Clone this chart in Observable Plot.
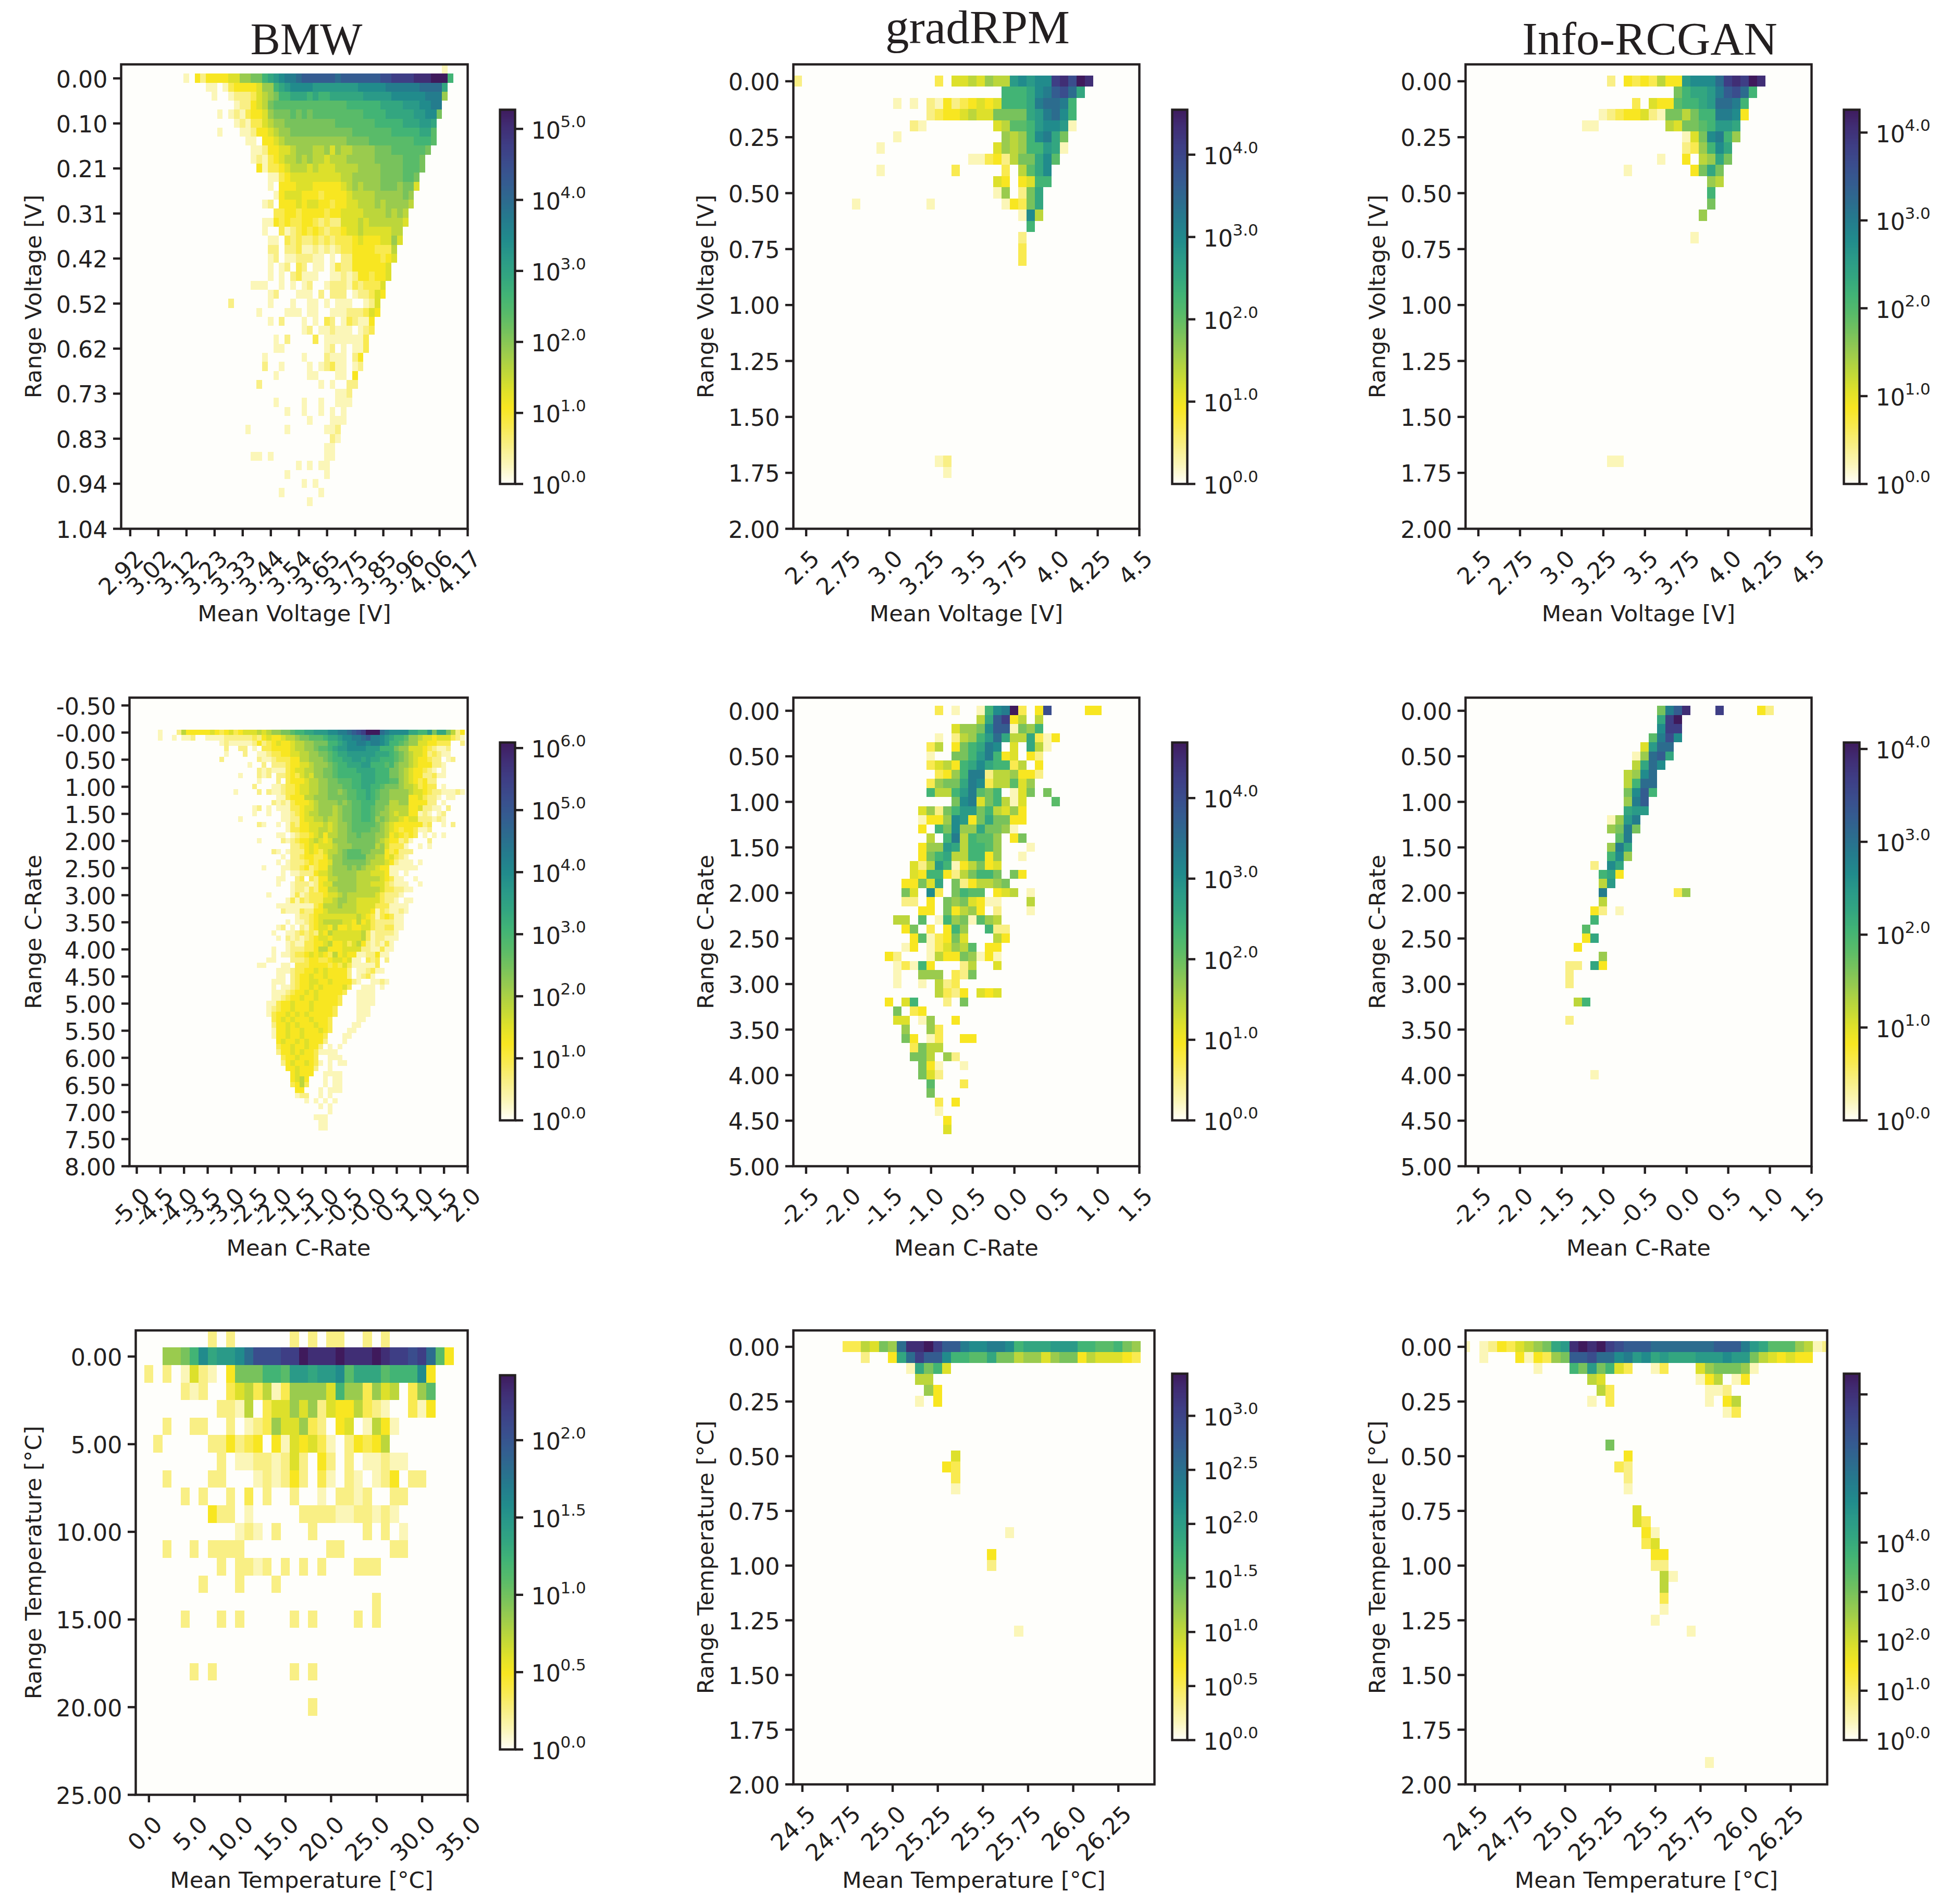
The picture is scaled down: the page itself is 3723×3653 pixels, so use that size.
<!DOCTYPE html>
<html>
<head>
<meta charset="utf-8">
<style>
html,body{margin:0;padding:0;background:#fff}
#page{position:relative;width:3723px;height:3653px;overflow:hidden;background:#fff}
#page svg{position:absolute}
.title{position:absolute;font-family:"Liberation Serif",serif;line-height:90px;color:#231f20;white-space:nowrap;transform:translateX(-50%)}
</style>
<script src="https://cdn.jsdelivr.net/npm/d3@7"></script>
<script src="https://cdn.jsdelivr.net/npm/@observablehq/plot@0.6"></script>
</head>
<body>
<div id="page"></div>
<script>
// Each cell list: [row, first column, levels]. One character per column; "." is empty.
// A level 0..k is a position on the logarithmic colour bar of that panel, in 1/20 steps.
const bmwVoltCells = [
[-1,56,"1"],
[0,10,"1.424444557788abcdeefggggggfggggggghhiiiijjjkkka"],
[1,14,"11.134444577abcddddccccccccdddddeeeeeeffffb"],
[2,15,"1..122235678aabbbabaabbbbbbcccccddddddeee7"],
[3,19,"12245689999999999999aaaaaabbbbcccddee"],
[4,16,"1.121344578889898999999999aaaabbbbbccdd8"],
[5,19,"1213356778888888889999999aaaaabbbccb"],
[6,16,"1"],[6,20,"112445677888888888889999999aaaaabb9"],
[7,21,"11.445677777777777888899999999aaa9"],
[8,22,"11244556777667576677778889999998"],
[9,22,"1213456676766566677777888889998"],
[10,23,"413345666565556666777788889998"],
[11,25,"113455555555566777778888998"],
[12,25,"1.4445554444456767778887885"],
[13,26,"1455544434444566667777787"],
[14,24,"12.444545544344556667677776"],
[15,26,"334434444344555566667676"],
[16,24,"11434334432322555656666665"],
[17,24,"1..3123434323345565555566"],
[18,25,"11.323223232333454445575"],
[19,25,"22.22311212123344443336"],
[20,25,"12.1122211.1.2244444345"],
[21,25,"1.12.32.11.13224444445"],
[22,25,"1.1.23111..11212443445"],
[23,22,"111..1.1.12..12221323335"],
[24,25,"12...111.2.222.122354"],
[25,18,"2"],[25,25,"1...1..11.1.111..125"],
[26,23,"1"],[26,28,"111.11..111222354"],
[27,25,"1.2...1.1.32.132114"],
[28,31,"12.112111.123"],
[29,26,"1.2....3.11111113"],
[30,26,"11"],[30,35,"12.1.113"],
[31,24,"1"],[31,31,"1...2111.24"],
[32,24,"2..1....1.12311.12"],
[33,26,"1.....11...11.4"],
[34,23,"2..........1.1..22"],
[35,37,"112"],
[36,26,"1....1..1..111"],
[37,28,"1..1..1.1.1"],
[38,32,"1...111"],
[39,21,"1......1......112"],
[40,36,"21"],
[41,35,"11"],
[42,22,"11.1.........11"],
[43,30,"1.1.11"],
[44,28,"1......1"],
[45,31,"1.1"],
[46,27,"1......1"],
[47,32,"1"]
];
const gradVoltCells = [
[0,0,"2................3.5565766cdcddijhkj"],
[1,25,"aaabdeghfb"],
[2,12,"1.1.214234545aaabeffea"],
[3,16,"234456558888bcefda"],
[4,14,"21........5699acddc1"],
[5,12,"1"],[5,25,"767adeb8"],
[6,10,"1"],[6,24,"5767aacb1"],
[7,21,"11342688bd9"],
[8,10,"1"],[8,19,"3"],[8,25,"3.69bd"],
[9,24,"54.45aa"],
[10,24,"17.28b"],
[11,7,"1"],[11,16,"1"],[11,25,"1438b"],
[12,27,"1d6"],
[13,28,"a"],
[14,27,"2"],[15,27,"3"],[16,27,"3"],
[34,17,"12"],[35,18,"1"]
];
const infoVoltCells = [
[0,17,"2.4343644cdddfijikj"],
[1,25,"8abbceghfa"],
[2,20,"3.5449aabcffea"],
[3,16,"123445218868aaeed4"],
[4,14,"11........65889accb"],
[5,26,"158dea7"],
[6,26,"237adb"],
[7,23,"1"],[7,26,"4.67b8"],
[8,19,"1"],[8,27,"48b8"],
[9,29,"76"],[10,29,"a"],[11,29,"8"],[12,28,"7"],[14,27,"1"],
[34,17,"11"]
];
const bmwCrateCells = [
[0,5,"1...2644444544"],
[0,18,"3453455565677889aabbcccddeefghikkkfeddddbbaac8bb8624"],
[1,5,"1..1.112"],[1,15,"111"],
[1,18,"1222222324544566788999abbcddeefgeedcbaa9776554555321"],
[2,18,"12111112423454456677888aabcddeedeedcaa98775544333..2"],
[3,18,".2..22.1.33444456677899abccddddcccaaa877555432112"],
[4,18,".1...2..1123344556677889abbccccccbbba987655423211"],
[5,18,"2.......2112333446677789aabbccbcbbaaa9876544322.12"],
[6,18,"......1..2.22234455677789aabbbccaaa9a87765444221"],
[7,18,"........21211134556677889aaaabbbbaaa8876544321.1"],
[8,18,"....1...212.2234356577889aaaaabbbaaa887654422311"],
[9,18,"........1...2.34445667788999aabbbaaa9976543422"],
[10,18,".......2...11233455667788899aabbaa988876653433.1"],
[11,18,"...1....2.2112334556677887899aaba9887777655432211121"],
[12,18,"............11344466777888899aaba98877774453221.11"],
[13,18,"...........2121344456777787899aaa8886677444422.1"],
[14,18,".......12.1.111334556777678899aa988766664452211.2"],
[15,18,".......1..1..11234566777678899aa9877656644121.12"],
[16,18,"....1........11224556676678899aa9787665455222121"],
[17,18,"........21..1.1324455565677899999876544444423..1.2"],
[18,18,"..............1334455665677899998876543443112"],
[19,18,"............11.123345646677889888776454343.1.1.1"],
[20,18,"........1....2123445654577788888876544231...2"],
[21,18,"...............2234545556777888886753331..1.1"],
[22,18,"...........21.122245435667899988777434222"],
[23,18,".............1.2234433467789999776645321"],
[24,18,"............1.122234344577888887666542111.1"],
[25,18,".........1...11223423446777878766544111111"],
[26,18,".............1.11222455677777666555411.1"],
[27,18,"............11..23.32446677776666654311..1"],
[28,18,"............1..1222124557777766655532111..1"],
[29,18,"...............12213244667777666665332211"],
[30,18,"..........1....131233345567666666532221"],
[31,18,"..............131323335567766555553221.11"],
[32,18,"............1111111134666766655553331111"],
[33,18,".............211132244566666655541321121"],
[34,18,"................12234555555556543134311"],
[35,18,"..............1.11234566665546453222211"],
[36,18,"............12.1.2134554644544553223311"],
[37,18,"...........1..112323254655555563122221"],
[38,18,"............1.212123455455555563122111"],
[39,18,"..............12113344564453564212131"],
[40,18,"...........1..12223346644455552211311"],
[41,18,"...........1.11233454543645441122411"],
[42,18,"..........11...222344334554511.323.2"],
[43,18,"........11...11.333444434353111113"],
[44,30,"1112334454544442.112311"],
[45,30,"11.2344544544442.1231"],
[46,29,"111.234455445444421..1121"],
[47,29,"1.112344545444453..111.1"],
[48,29,"1112344545444443..1111"],
[49,29,"112344544544443...1111"],
[50,28,"1134454445444443...1111"],
[51,28,"123445444544443....111"],
[52,28,"134454545444443....111"],
[53,29,"3454544454443.....11"],
[54,29,"2445454445443....11"],
[55,29,"1445445444543...11"],
[56,29,"144544544443...11"],
[57,30,"45445454442...1"],
[58,30,"3445445442.1.1"],
[59,30,"2445454431111"],
[60,31,"34454443..111"],
[61,31,"245445431.1.11"],
[62,32,"4454442..1"],
[63,33,"45444..1111"],
[64,33,"4564...1.11"],
[65,33,"3463...1.11"],
[66,34,"44...1.111"],
[67,34,"122..1.1"],
[68,36,"1.1.1.1"],
[69,39,"1.1"],
[70,41,"1"],
[71,38,"111"],
[72,39,"11"],
[73,39,"11"]
];
const gradCrateCells = [
[0,6,"3.1..1adek3.4h....44"],
[1,11,"6bgi46.6"],
[2,8,"5778dgg187a"],
[3,6,"1.267acfb66b314"],
[4,5,"36.48abed.5.b61"],
[5,5,"1..88acea45.42"],
[6,5,"3564abdbaa36.4"],
[7,6,"347aee2667442"],
[8,5,"3788bed366957"],
[9,5,"a66ace98a.158.8"],
[10,8,"8de58a615...9"],
[11,4,"5728acc8a6574"],
[12,4,"1447dc48b8844"],
[13,4,"4.a8d77b8871"],
[14,5,"6.ae6a997.48"],
[15,4,"477cb6aa97...1"],
[16,4,"48ab66aa47..1"],
[17,3,"526ca146845"],
[18,3,"54aa4268aa8.84"],
[19,2,"4485b.8246678"],
[20,2,"85.d3.8a99.456.1"],
[21,2,"22.4.8785411...6"],
[22,4,"44.84674.2...1"],
[23,1,"66.9.1a781976"],
[24,2,"48.3.4a7..a22"],
[25,3,"4913485...64"],
[26,2,"14.135769.44"],
[27,0,"42...164487141"],
[28,1,"131a4...26..5"],
[29,1,"1..777.328"],
[30,1,"1..1.623"],
[31,6,"6324.545"],
[32,0,"4.5a...2.8"],
[33,1,"8.34"],
[34,1,"55.17..4"],
[35,2,"7..73"],
[36,2,"84.13..44"],
[37,3,"3866"],
[38,3,"886.72"],
[39,4,"841..1"],
[40,4,"852"],
[41,5,"9...3"],
[42,5,"8"],
[43,6,"3.4"],
[44,6,"1"],
[45,7,"4"],
[46,7,"5"]
];
const infoCrateCells = [
[0,12,"8egj...i....42"],
[1,12,"bik"],[2,12,"dii"],
[3,11,"9ehd"],[4,10,"5cff"],[5,9,"17fgb"],[6,9,"6bfd"],
[7,8,"67df"],[8,8,"6aff"],[9,8,"8dga"],[10,8,"7eg"],[11,8,"bcc"],
[12,6,"17ce"],[13,6,"78e8"],[14,7,"9e"],[15,6,"7eb"],[16,6,"ad7"],
[17,4,"2.db"],[18,5,"ab4"],[19,5,"6c"],
[20,5,"e........37"],[21,5,"6"],[22,4,"42.1"],[23,4,"a"],[24,3,"9"],
[25,3,"4b"],[26,2,"4"],[27,5,"7"],[28,1,"22.b4"],[29,1,"2"],[30,1,"2"],
[32,2,"6a"],[34,1,"2"],[40,4,"1"]
];
const bmwTempCells = [
[-1,7,"2.2......2.2.22..2.2"],
[0,2,"778adbccdfhhhiikjjjkjjjkjiihif94"],
[1,0,"2.2.1521.4888aa9ccbccd9bbb9aaad4"],
[2,4,"212..356361377775a773756.379"],
[3,8,"2216.35575725446321..314"],
[4,2,"2..22..2.123755732.45.1641"],
[5,1,"2.....224234.4154531.24346"],
[6,8,"2.11221252.42.2.11211"],
[7,2,"2....22...121242.31.21.124.22"],
[8,4,"2.2..2.3.2..2..1.2212..22"],
[9,7,"422.1.....22221122121"],
[10,10,"121.2...2.....2.2.1"],
[11,2,"2..2.2222.........22.....22"],
[12,8,"2.2212.2.2.2...222"],
[13,6,"2...2...2"],
[14,25,"2"],
[15,4,"2...2.2.....2.2....2.2"],
[18,5,"2.2........2.2"],
[20,18,"2"]
];
const gradTempCells = [
[0,0,"336587fjjkiggeddeedabbbcccaa99a87"],
[1,2,"2..4bfiggdaa99b8867757884655543"],
[2,7,"1b8a5"],
[3,8,"66"],
[4,9,"74"],
[5,8,"1.4"],
[10,12,"5"],
[11,11,"43"],
[12,12,"3"],
[13,12,"1"],
[17,18,"1"],
[19,16,"4"],
[20,16,"2"],
[26,19,"1"]
];
const infoTempCells = [
[0,0,"1.12435678bcjkjkihgggfffffffgggecb9997612"],
[1,2,"1...414378gghffdecdbcbbbcccdcc8654544"],
[2,8,"1...a8c8a53..13...5788871"],
[3,14,"65..........146.14"],
[4,15,"63..........112"],
[5,14,"1.3..........1.46"],
[6,29,"13"],
[9,16,"8"],
[10,18,"4"],
[11,17,"32"],
[12,18,"2"],
[13,18,"1"],
[15,19,"5"],
[16,19,"53"],
[17,20,"41"],
[18,20,"35"],
[19,21,"44"],
[20,21,"22"],
[21,22,"61"],
[22,22,"6"],
[23,22,"3"],
[24,22,"1"],
[25,21,"1"],
[26,25,"1"],
[38,27,"1"]
];

// Tick values and their printed labels
const bmwVoltX = [2.91667,3.02083,3.125,3.22917,3.33333,3.4375,3.54167,3.64583,3.75,3.85417,3.95833,4.0625,4.16667];
const bmwVoltXLabels = ["2.92","3.02","3.12","3.23","3.33","3.44","3.54","3.65","3.75","3.85","3.96","4.06","4.17"];
const bmwVoltY = [0,0.104167,0.208333,0.3125,0.416667,0.520833,0.625,0.729167,0.833333,0.9375,1.041667];
const bmwVoltYLabels = ["0.00","0.10","0.21","0.31","0.42","0.52","0.62","0.73","0.83","0.94","1.04"];
const genVoltX = [2.5,2.75,3,3.25,3.5,3.75,4,4.25,4.5];
const genVoltXLabels = ["2.5","2.75","3.0","3.25","3.5","3.75","4.0","4.25","4.5"];
const genRangeY = [0,0.25,0.5,0.75,1,1.25,1.5,1.75,2];
const genRangeYLabels = ["0.00","0.25","0.50","0.75","1.00","1.25","1.50","1.75","2.00"];
const bmwCrateX = [-5,-4.5,-4,-3.5,-3,-2.5,-2,-1.5,-1,-0.5,0,0.5,1,1.5,2];
const bmwCrateXLabels = ["-5.0","-4.5","-4.0","-3.5","-3.0","-2.5","-2.0","-1.5","-1.0","-0.5","-0.0","0.5","1.0","1.5","2.0"];
const bmwCrateY = [-0.5,0,0.5,1,1.5,2,2.5,3,3.5,4,4.5,5,5.5,6,6.5,7,7.5,8];
const bmwCrateYLabels = ["-0.50","-0.00","0.50","1.00","1.50","2.00","2.50","3.00","3.50","4.00","4.50","5.00","5.50","6.00","6.50","7.00","7.50","8.00"];
const genCrateX = [-2.5,-2,-1.5,-1,-0.5,0,0.5,1,1.5];
const genCrateXLabels = ["-2.5","-2.0","-1.5","-1.0","-0.5","0.0","0.5","1.0","1.5"];
const genCrateY = [0,0.5,1,1.5,2,2.5,3,3.5,4,4.5,5];
const genCrateYLabels = ["0.00","0.50","1.00","1.50","2.00","2.50","3.00","3.50","4.00","4.50","5.00"];
const bmwTempX = [0,5,10,15,20,25,30,35];
const bmwTempXLabels = ["0.0","5.0","10.0","15.0","20.0","25.0","30.0","35.0"];
const bmwTempY = [0,5,10,15,20,25];
const bmwTempYLabels = ["0.00","5.00","10.00","15.00","20.00","25.00"];
const genTempX = [24.5,24.75,25,25.25,25.5,25.75,26,26.25];
const genTempXLabels = ["24.5","24.75","25.0","25.25","25.5","25.75","26.0","26.25"];

const colTitles = ["BMW","gradRPM","Info-RCGAN"];
const cbIntegerTicks = [0,1,2,3,4,5,6];
const cbHalfTicks = [0,0.5,1,1.5,2,2.5,3];

const INK = "#231f20";
const LEVELS = "0123456789abcdefghijk";
const RAMP = ["#fffef6","#fbf6b8","#f9ef85","#f9ea50","#f8e621","#dde02b","#bcd63b","#9acb4e","#78c25c","#59bb69","#42b475",
              "#33a680","#2a9a88","#218b8c","#247c8d","#2c6c8e","#345c90","#3a4d8d","#3e3e85","#402e75","#3f1a5c"];
const ramp = d3.scaleLinear().domain(RAMP.map((_, i) => i / 20)).range(RAMP).clamp(true);
const interpolate = t => ramp(t);

const FS = 44.4, LABEL_FS = 43.3, SW = 4.4, TICK = 15;
const page = document.getElementById("page");

function panel(o) {
  const mL = 240, mR = 6, mT = 6, mB = 230;
  const W = o.right - o.left, H = o.bottom - o.top;
  const cells = [];
  for (const [r, c0, s] of o.cells) {
    [...s].forEach((ch, i) => {
      if (ch === ".") return;
      const c = c0 + i, t = LEVELS.indexOf(ch) / 20;
      const x = o.x0 + c * o.dx, y = o.y0 + r * o.dy;
      cells.push({x1: x - o.dx / 2, x2: x + o.dx / 2, y1: y - o.dy / 2, y2: y + o.dy / 2, v: 10 ** (t * o.E)});
    });
  }
  const xl = new Map(o.xt.map((d, i) => [d, o.xtl[i]]));
  const yl = new Map(o.yt.map((d, i) => [d, o.ytl[i]]));
  const svg = Plot.plot({
    width: W + mL + mR, height: H + mT + mB,
    marginLeft: mL, marginRight: mR, marginTop: mT, marginBottom: mB,
    style: {fontFamily: "DejaVu Sans", fontSize: FS + "px", color: INK, background: "transparent", overflow: "visible"},
    x: {domain: o.xd, axis: null},
    y: {domain: o.yd, axis: null},
    color: {type: "log", domain: [1, 10 ** o.E], interpolate},
    marks: [
      Plot.frame({fill: "#fefefb", stroke: null}),
      Plot.rect(cells, {x1: "x1", x2: "x2", y1: "y1", y2: "y2", fill: "v", clip: true, shapeRendering: "crispEdges"}),
      Plot.axisX(o.xt, {anchor: "bottom", tickSize: TICK, fill: "none", strokeWidth: SW, label: null}),
      Plot.axisX(o.xt, {anchor: "bottom", tickSize: 0, tickPadding: 50, tickRotate: -45, textAnchor: "end", lineAnchor: "middle",
        dx: 18, tickFormat: d => xl.get(d), label: null}),
      Plot.axisY(o.yt, {anchor: "left", tickSize: TICK, fill: "none", strokeWidth: SW, label: null}),
      Plot.axisY(o.yt, {anchor: "left", tickSize: 0, tickPadding: 26, dy: 3, tickFormat: d => yl.get(d), label: null}),
      Plot.text([o.xlabel], {frameAnchor: "bottom", dy: o.xlabelDy, textAnchor: "middle", lineAnchor: "middle", fontSize: LABEL_FS}),
      Plot.text([o.ylabel], {frameAnchor: "left", dx: o.labelX - o.left, rotate: -90, textAnchor: "middle", lineAnchor: "middle", fontSize: LABEL_FS}),
      Plot.frame({stroke: INK, strokeWidth: SW})
    ]
  });
  svg.style.left = (o.left - mL) + "px";
  svg.style.top = (o.top - mT) + "px";
  page.appendChild(svg);
}

function colorbar(o) {
  const mL = 4, mR = 200, mT = 6, mB = 60;
  const W = o.right - o.left, H = o.bottom - o.top;
  const N = 240;
  const steps = d3.range(N).map(i => i / N);
  const vals = o.ticks.map(e => 10 ** e);
  const labelled = o.ticks.filter(e => e <= o.lastLabel);
  const svg = Plot.plot({
    width: W + mL + mR, height: H + mT + mB,
    marginLeft: mL, marginRight: mR, marginTop: mT, marginBottom: mB,
    style: {fontFamily: "DejaVu Sans", fontSize: FS + "px", color: INK, background: "transparent", overflow: "visible"},
    x: {domain: [0, 1], axis: null},
    y: {type: "log", domain: [1, 10 ** o.E], axis: null},
    color: {type: "log", domain: [1, 10 ** o.E], interpolate},
    marks: [
      Plot.rect(steps, {x1: () => 0, x2: () => 1, y1: d => 10 ** (d * o.E), y2: d => 10 ** ((d + 1.5 / N) * o.E),
        fill: d => 10 ** (d * o.E), shapeRendering: "crispEdges", clip: true}),
      Plot.axisY(vals, {anchor: "right", tickSize: TICK, strokeWidth: SW, fill: "none", label: null}),
      Plot.axisY(labelled.map(e => 10 ** e), {anchor: "right", tickSize: 0, tickPadding: 31, textAnchor: "start", dy: 4,
        tickFormat: () => "10", label: null}),
      Plot.text(labelled, {y: e => 10 ** e, text: e => e.toFixed(1), frameAnchor: "right", textAnchor: "start",
        dx: 87, dy: -13, fontSize: 31}),
      Plot.frame({stroke: INK, strokeWidth: SW})
    ]
  });
  svg.style.left = (o.left - mL) + "px";
  svg.style.top = (o.top - mT) + "px";
  page.appendChild(svg);
}

const VY = "Range Voltage [V]", VX = "Mean Voltage [V]";
const CY = "Range C-Rate", CX = "Mean C-Rate";
const TY = "Range Temperature [°C]", TX = "Mean Temperature [°C]";

panel({cells: bmwVoltCells, E: 5.27, x0: 2.916667, dx: 1.25 / 60, y0: 0, dy: 1.25 / 60, xd: [2.8831, 4.16667], yd: [1.041667, -0.0324],
  left: 232, right: 897, top: 123, bottom: 1014, labelX: 65, xlabel: VX, ylabel: VY, xlabelDy: 164, xt: bmwVoltX, xtl: bmwVoltXLabels, yt: bmwVoltY, ytl: bmwVoltYLabels});
panel({cells: gradVoltCells, E: 4.546, x0: 2.45, dx: 0.05, y0: 0, dy: 0.05, xd: [2.423, 4.5], yd: [2, -0.0755],
  left: 1522, right: 2186, top: 123, bottom: 1014, labelX: 1355, xlabel: VX, ylabel: VY, xlabelDy: 164, xt: genVoltX, xtl: genVoltXLabels, yt: genRangeY, ytl: genRangeYLabels});
panel({cells: infoVoltCells, E: 4.26, x0: 2.45, dx: 0.05, y0: 0, dy: 0.05, xd: [2.423, 4.5], yd: [2, -0.0755],
  left: 2812, right: 3476, top: 123, bottom: 1014, labelX: 2644, xlabel: VX, ylabel: VY, xlabelDy: 164, xt: genVoltX, xtl: genVoltXLabels, yt: genRangeY, ytl: genRangeYLabels});

panel({cells: bmwCrateCells, E: 6.09, x0: -5, dx: 0.1, y0: 0, dy: 0.1, xd: [-5.154, 2], yd: [8, -0.644],
  left: 248, right: 897, top: 1338, bottom: 2237, labelX: 65, xlabel: CX, ylabel: CY, xlabelDy: 158, xt: bmwCrateX, xtl: bmwCrateXLabels, yt: bmwCrateY, ytl: bmwCrateYLabels});
panel({cells: gradCrateCells, E: 4.69, x0: -1.5, dx: 0.1, y0: 0, dy: 0.1, xd: [-2.653, 1.5], yd: [5, -0.144],
  left: 1522, right: 2186, top: 1338, bottom: 2237, labelX: 1355, xlabel: CX, ylabel: CY, xlabelDy: 158, xt: genCrateX, xtl: genCrateXLabels, yt: genCrateY, ytl: genCrateYLabels});
panel({cells: infoCrateCells, E: 4.07, x0: -1.5, dx: 0.1, y0: 0, dy: 0.1, xd: [-2.653, 1.5], yd: [5, -0.144],
  left: 2812, right: 3476, top: 1338, bottom: 2237, labelX: 2644, xlabel: CX, ylabel: CY, xlabelDy: 158, xt: genCrateX, xtl: genCrateXLabels, yt: genCrateY, ytl: genCrateYLabels});

panel({cells: bmwTempCells, E: 2.42, x0: 0, dx: 1, y0: 0, dy: 1, xd: [-1.45, 35], yd: [25, -1.49],
  left: 260, right: 897, top: 2552, bottom: 3443, labelX: 65, xlabel: TX, ylabel: TY, xlabelDy: 165, xt: bmwTempX, xtl: bmwTempXLabels, yt: bmwTempY, ytl: bmwTempYLabels});
panel({cells: gradTempCells, E: 3.39, x0: 24.75, dx: 0.05, y0: 0, dy: 0.05, xd: [24.45, 26.45], yd: [2, -0.075],
  left: 1522, right: 2215, top: 2552, bottom: 3423, labelX: 1355, xlabel: TX, ylabel: TY, xlabelDy: 185, xt: genTempX, xtl: genTempXLabels, yt: genRangeY, ytl: genRangeYLabels});
panel({cells: infoTempCells, E: 7.42, x0: 24.45, dx: 0.05, y0: 0, dy: 0.05, xd: [24.448, 26.452], yd: [2, -0.075],
  left: 2812, right: 3506, top: 2552, bottom: 3423, labelX: 2644, xlabel: TX, ylabel: TY, xlabelDy: 185, xt: genTempX, xtl: genTempXLabels, yt: genRangeY, ytl: genRangeYLabels});

colorbar({left: 959, right: 988, top: 210, bottom: 928, E: 5.27, ticks: cbIntegerTicks.slice(0, 6), lastLabel: 5});
colorbar({left: 2249, right: 2278, top: 210, bottom: 928, E: 4.546, ticks: cbIntegerTicks.slice(0, 5), lastLabel: 4});
colorbar({left: 3538, right: 3568, top: 210, bottom: 928, E: 4.26, ticks: cbIntegerTicks.slice(0, 5), lastLabel: 4});
colorbar({left: 959, right: 988, top: 1424, bottom: 2149, E: 6.09, ticks: cbIntegerTicks, lastLabel: 6});
colorbar({left: 2249, right: 2278, top: 1424, bottom: 2149, E: 4.69, ticks: cbIntegerTicks.slice(0, 5), lastLabel: 4});
colorbar({left: 3538, right: 3568, top: 1424, bottom: 2149, E: 4.07, ticks: cbIntegerTicks.slice(0, 5), lastLabel: 4});
colorbar({left: 959, right: 988, top: 2638, bottom: 3356, E: 2.42, ticks: cbHalfTicks.slice(0, 5), lastLabel: 2});
colorbar({left: 2249, right: 2278, top: 2635, bottom: 3338, E: 3.39, ticks: cbHalfTicks, lastLabel: 3});
colorbar({left: 3538, right: 3568, top: 2635, bottom: 3338, E: 7.42, ticks: [0,1,2,3,4,5,6,7], lastLabel: 4});

[[colTitles[0], 588, 104, 86], [colTitles[1], 1876, 84, 91], [colTitles[2], 3166, 104, 89]].forEach(([t, x, base, fs]) => {
  const d = document.createElement("div");
  d.className = "title";
  d.textContent = t;
  d.style.left = x + "px";
  d.style.fontSize = fs + "px";
  d.style.top = (base - fs * 0.891 - (90 - fs * 1.107) / 2) + "px";
  page.appendChild(d);
});
</script>
</body>
</html>
